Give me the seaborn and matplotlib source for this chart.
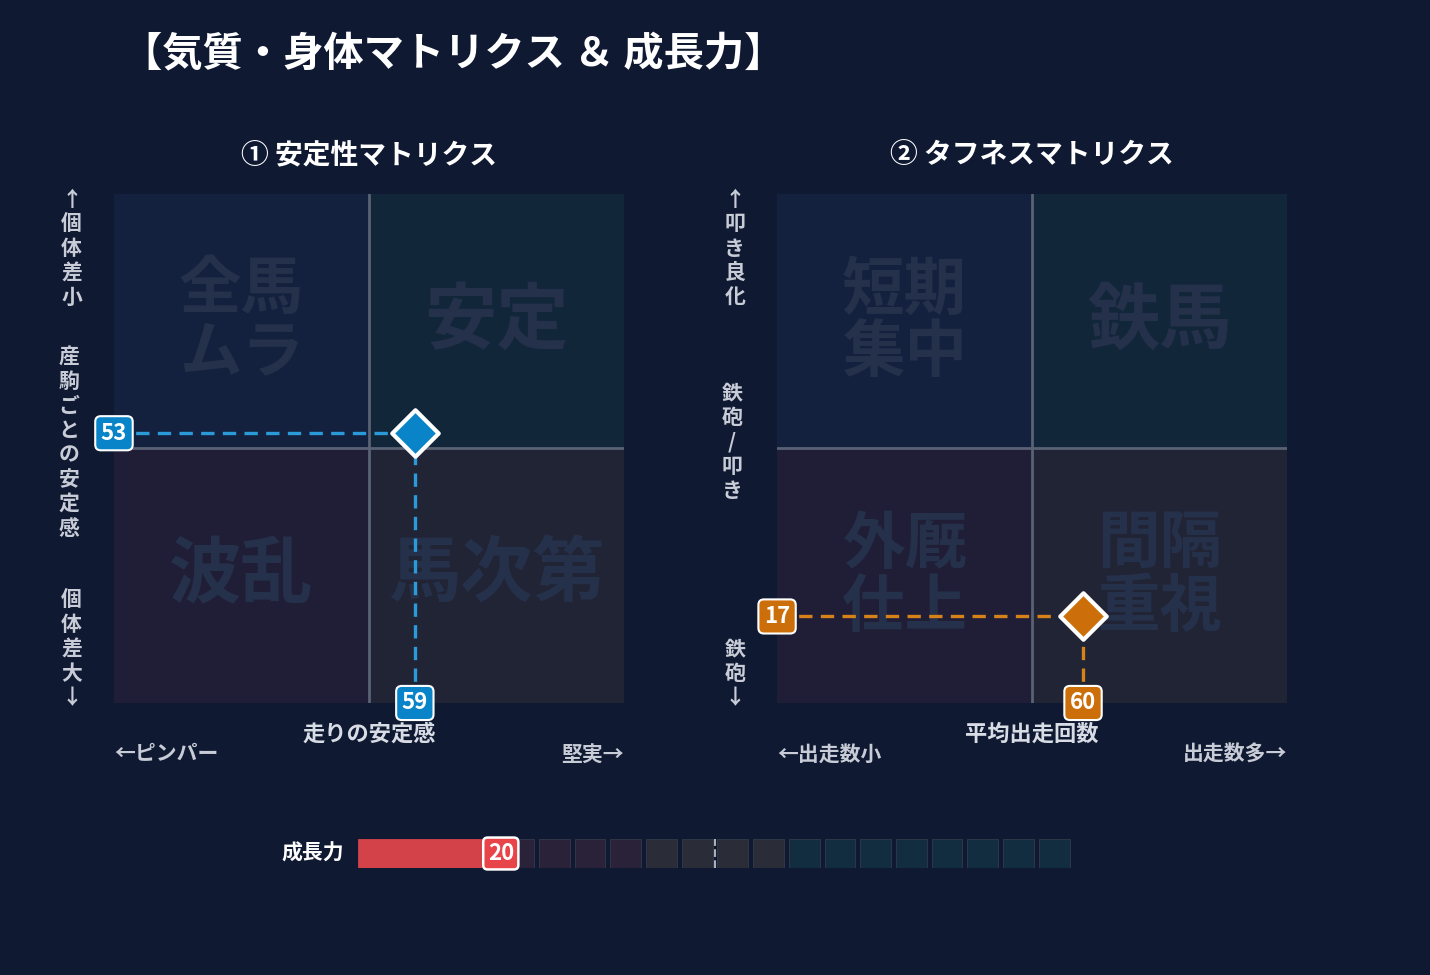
import matplotlib
matplotlib.use("Agg")
import matplotlib.pyplot as plt
import pandas as pd
import seaborn as sns

sns.set_theme(style="dark")
plt.rcParams["font.family"] = ["Noto Sans CJK JP", "DejaVu Sans"]
plt.rcParams["font.weight"] = "bold"

BG = "#0f1932"
QUAD = ["#13213f", "#12263a", "#201e36", "#212435"]  # TL, TR, BL, BR
GHOST = "#25304a"

# data
stab_x, stab_y = 59, 53
tough_x, tough_y = 60, 17
growth = 20
stab_words = ["全馬\nムラ", "安定", "波乱", "馬次第"]
tough_words = ["短期\n集中", "鉄馬", "外厩\n仕上", "間隔\n重視"]
growth_cells = ["#d34249"] * 4 + ["#2a2238"] * 4 + ["#2a2d38"] * 4 + ["#122d40"] * 8

fig = plt.figure(figsize=(14.3, 9.75), dpi=100)
fig.patch.set_facecolor(BG)
fig.text(0.085, 0.945, "【気質・身体マトリクス ＆ 成長力】", color="white", fontsize=29,
         fontweight="bold", va="center")


def matrix(left, title, words, px, py, color, line_color, xlab, xl, xr,
           ylab_top, ylab_mid, ylab_bot, mid_top):
    ax = fig.add_axes([left, 0.279, 0.3566, 0.522])
    ax.set_xlim(0, 100)
    ax.set_ylim(0, 100)
    ax.set_facecolor(BG)
    for (x0, y0), c in zip([(0, 50), (50, 50), (0, 0), (50, 0)], QUAD):
        ax.add_patch(plt.Rectangle((x0, y0), 50, 50, color=c, zorder=0))
    ax.axvline(50, color="#5a6275", lw=2, zorder=1)
    ax.axhline(50, color="#5a6275", lw=2, zorder=1)
    for (cx, cy), w in zip([(25, 75), (75, 75), (25, 25), (75, 25)], words):
        ax.text(cx, cy, w, color=GHOST, fontsize=52 if "\n" not in w else 45,
                ha="center", va="center", fontweight="bold", linespacing=1.0, zorder=1)
    ax.plot([0, px], [py, py], ls=(0, (4, 2.5)), color=line_color, lw=2.4, zorder=2)
    ax.plot([px, px], [0, py], ls=(0, (4, 2.5)), color=line_color, lw=2.4, zorder=2)
    df = pd.DataFrame({"x": [px], "y": [py]})
    sns.scatterplot(data=df, x="x", y="y", marker="D", s=560, color=color,
                    edgecolor="white", linewidth=3, ax=ax, zorder=4, clip_on=False)
    box = dict(boxstyle="round,pad=0.25", fc=color, ec="white", lw=1.5)
    ax.text(0, py, str(py), ha="center", va="center", color="white", fontsize=16,
            bbox=box, zorder=5, clip_on=False)
    ax.text(px, 0, str(px), ha="center", va="center", color="white", fontsize=16,
            bbox=box, zorder=5, clip_on=False)
    for s in ax.spines.values():
        s.set_visible(False)
    ax.set_xticks([])
    ax.set_yticks([])
    ax.set_xlabel("")
    ax.set_ylabel("")
    ax.set_title(title, color="white", fontsize=20, fontweight="bold", pad=22)
    ax.text(50, -6.2, xlab, ha="center", va="center", color="#d8dce4", fontsize=16, clip_on=False)
    ax.text(0, -10, xl, ha="left", va="center", color="#c8ccd6", fontsize=15, clip_on=False)
    ax.text(100, -10, xr, ha="right", va="center", color="#c8ccd6", fontsize=15, clip_on=False)
    kw = dict(color="#c8ccd6", fontsize=15, ha="center", linespacing=1.2, clip_on=False)
    ax.text(-8.3, 101, "\n".join(ylab_top), va="top", **kw)
    ax.text(-8.8, mid_top, "\n".join(ylab_mid), va="top", **kw)
    ax.text(-8.3, -1, "\n".join(ylab_bot), va="bottom", **kw)
    return ax


matrix(0.0797, "① 安定性マトリクス", stab_words, stab_x, stab_y, "#0a84c8", "#2a9bd8",
       "走りの安定感", "←ピンパー", "堅実→",
       "↑個体差小", "産駒ごとの安定感", "個体差大↓", 70)
matrix(0.5434, "② タフネスマトリクス", tough_words, tough_x, tough_y, "#cc6f0a", "#d6821a",
       "平均出走回数", "←出走数小", "出走数多→",
       "↑叩き良化", "鉄砲/叩き", "鉄砲↓", 63)

# growth bar
gx = fig.add_axes([358 / 1430, 1 - 868 / 975, 714 / 1430, 29 / 975])
gx.set_facecolor(BG)
cells = pd.DataFrame({"start": [i * 5 for i in range(20)], "c": growth_cells})
for _, r in cells.iterrows():
    filled = r["start"] < growth
    gx.barh(0, 5 if filled else 4.3, left=r["start"] + (0 if filled else 0.35), height=1,
            color=r["c"], edgecolor=r["c"] if filled else "#333a4a", lw=0.6)
gx.axvline(50, color="#aab0bc", ls="--", lw=1.5)
gx.set_xlim(0, 100)
gx.set_ylim(-0.5, 0.5)
gx.axis("off")
gx.text(growth, 0, str(growth), ha="center", va="center", color="white", fontsize=16,
        bbox=dict(boxstyle="round,pad=0.2", fc="#e8454b", ec="white", lw=1.8), zorder=5)
gx.text(-2, 0, "成長力", ha="right", va="center", color="white", fontsize=15)

fig.savefig("out.png", dpi=100, facecolor=BG)
